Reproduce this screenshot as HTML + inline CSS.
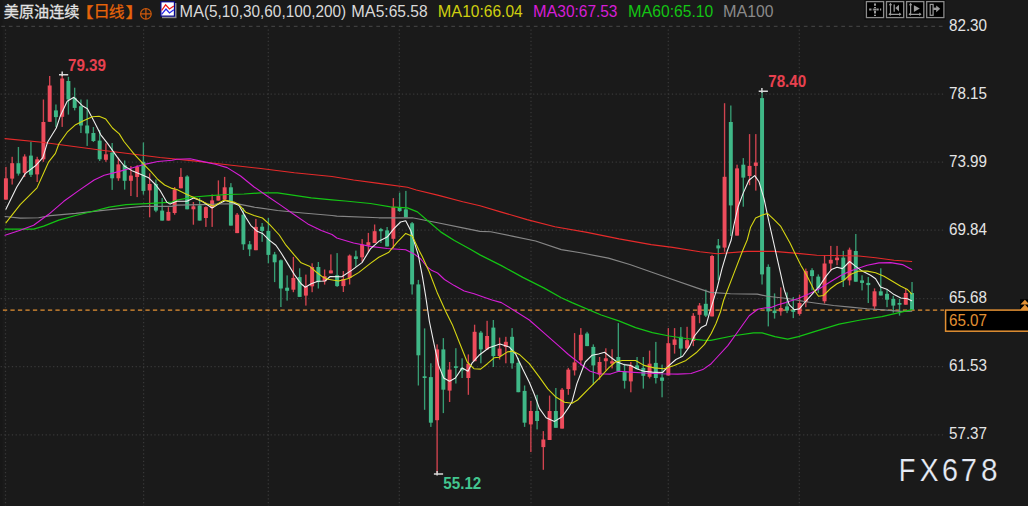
<!DOCTYPE html>
<html><head><meta charset="utf-8"><title>chart</title>
<style>html,body{margin:0;padding:0;background:#1a1a1a;overflow:hidden}body{width:1028px;height:506px;position:relative;font-family:"Liberation Sans",sans-serif}</style>
</head><body>
<svg width="1028" height="506" viewBox="0 0 1028 506" style="position:absolute;left:0;top:0">
<rect width="1028" height="506" fill="#1a1a1a"/>
<rect x="0" y="0" width="2.4" height="506" fill="#171717"/>
<g stroke="#383838" stroke-width="1.25" stroke-dasharray="1.25 2.5" fill="none">
<path d="M0.6 94 H944"/>
<path d="M0.6 162.2 H944"/>
<path d="M0.6 230.2 H944"/>
<path d="M0.6 298.6 H944"/>
<path d="M0.6 366.5 H944"/>
<path d="M0.6 434.8 H944"/>
<path d="M5.5 29.4 V506"/>
<path d="M143.6 29.4 V506"/>
<path d="M268.3 29.4 V506"/>
<path d="M399.3 29.4 V506"/>
<path d="M531 29.4 V506"/>
<path d="M668.3 29.4 V506"/>
<path d="M799.3 29.4 V506"/>
</g>
<path d="M1.3 26.4 H943" stroke="#3e3e3e" stroke-width="1.25" stroke-dasharray="3.75 3.75" fill="none"/>
<path d="M-4.6 310 H944" stroke="#e29033" stroke-width="1.25" stroke-dasharray="4.3 3.2" fill="none"/>
<g><rect x="5.25" y="166.9" width="1.35" height="32.7" fill="#d2434f"/><rect x="3.95" y="178.3" width="3.95" height="21.3" fill="#ee4c5c"/><rect x="11.5" y="156.8" width="1.35" height="27.7" fill="#d2434f"/><rect x="10.2" y="163.2" width="3.95" height="15.4" fill="#ee4c5c"/><rect x="17.75" y="147" width="1.35" height="28.6" fill="#379c73"/><rect x="16.45" y="163.2" width="3.95" height="10.4" fill="#3fb887"/><rect x="24" y="154.3" width="1.35" height="22.7" fill="#d2434f"/><rect x="22.7" y="156.5" width="3.95" height="16.3" fill="#ee4c5c"/><rect x="30.25" y="142" width="1.35" height="35" fill="#379c73"/><rect x="28.95" y="155.6" width="3.95" height="19.2" fill="#3fb887"/><rect x="36.5" y="156.8" width="1.35" height="25.2" fill="#d2434f"/><rect x="35.2" y="159.3" width="3.95" height="15.1" fill="#ee4c5c"/><rect x="42.75" y="99.5" width="1.35" height="62.3" fill="#d2434f"/><rect x="41.45" y="122" width="3.95" height="37.3" fill="#ee4c5c"/><rect x="49" y="76" width="1.35" height="45.8" fill="#d2434f"/><rect x="47.7" y="85.5" width="3.95" height="36.3" fill="#ee4c5c"/><rect x="55.25" y="104.5" width="1.35" height="22.7" fill="#379c73"/><rect x="53.95" y="110.4" width="3.95" height="6.7" fill="#3fb887"/><rect x="61.5" y="74.8" width="1.35" height="52.1" fill="#d2434f"/><rect x="60.2" y="78.5" width="3.95" height="38.3" fill="#ee4c5c"/><rect x="67.74" y="76.8" width="1.35" height="37.8" fill="#379c73"/><rect x="66.44" y="81" width="3.95" height="18.5" fill="#3fb887"/><rect x="73.99" y="87.7" width="1.35" height="22.7" fill="#379c73"/><rect x="72.69" y="97.8" width="3.95" height="10.1" fill="#3fb887"/><rect x="80.24" y="99.5" width="1.35" height="33.5" fill="#379c73"/><rect x="78.94" y="106.2" width="3.95" height="19.3" fill="#3fb887"/><rect x="86.49" y="99.5" width="1.35" height="46.4" fill="#379c73"/><rect x="85.19" y="125.5" width="3.95" height="7.9" fill="#3fb887"/><rect x="92.74" y="127" width="1.35" height="15" fill="#379c73"/><rect x="91.44" y="133" width="3.95" height="8" fill="#3fb887"/><rect x="98.99" y="130" width="1.35" height="31" fill="#379c73"/><rect x="97.69" y="140.6" width="3.95" height="18.7" fill="#3fb887"/><rect x="105.24" y="143.4" width="1.35" height="18.4" fill="#d2434f"/><rect x="103.94" y="154.3" width="3.95" height="5.5" fill="#ee4c5c"/><rect x="111.49" y="143" width="1.35" height="46.9" fill="#379c73"/><rect x="110.19" y="152.6" width="3.95" height="25.7" fill="#3fb887"/><rect x="117.74" y="157.6" width="1.35" height="23.2" fill="#d2434f"/><rect x="116.44" y="164.4" width="3.95" height="13.9" fill="#ee4c5c"/><rect x="123.99" y="160.5" width="1.35" height="29.1" fill="#379c73"/><rect x="122.69" y="165.2" width="3.95" height="15.6" fill="#3fb887"/><rect x="130.23" y="166" width="1.35" height="30" fill="#d2434f"/><rect x="128.94" y="175.6" width="3.95" height="5.2" fill="#ee4c5c"/><rect x="136.48" y="165.2" width="1.35" height="31.9" fill="#d2434f"/><rect x="135.18" y="166.9" width="3.95" height="10.1" fill="#ee4c5c"/><rect x="142.73" y="142.5" width="1.35" height="52.1" fill="#379c73"/><rect x="141.43" y="161.8" width="3.95" height="29.1" fill="#3fb887"/><rect x="148.98" y="173.3" width="1.35" height="44" fill="#d2434f"/><rect x="147.68" y="184" width="3.95" height="6.4" fill="#ee4c5c"/><rect x="155.23" y="179.5" width="1.35" height="32.7" fill="#379c73"/><rect x="153.93" y="184" width="3.95" height="26.6" fill="#3fb887"/><rect x="161.48" y="198" width="1.35" height="22.6" fill="#379c73"/><rect x="160.18" y="210.6" width="3.95" height="10" fill="#3fb887"/><rect x="167.73" y="207.2" width="1.35" height="13.4" fill="#d2434f"/><rect x="166.43" y="211.9" width="3.95" height="8.7" fill="#ee4c5c"/><rect x="173.98" y="187" width="1.35" height="27.7" fill="#d2434f"/><rect x="172.68" y="189.5" width="3.95" height="23.5" fill="#ee4c5c"/><rect x="180.23" y="168.1" width="1.35" height="20.2" fill="#d2434f"/><rect x="178.93" y="176.9" width="3.95" height="11.4" fill="#ee4c5c"/><rect x="186.48" y="175.2" width="1.35" height="34.1" fill="#379c73"/><rect x="185.18" y="176.5" width="3.95" height="32.8" fill="#3fb887"/><rect x="192.72" y="202" width="1.35" height="22.7" fill="#d2434f"/><rect x="191.43" y="206.3" width="3.95" height="3" fill="#ee4c5c"/><rect x="198.97" y="197.9" width="1.35" height="22.7" fill="#379c73"/><rect x="197.67" y="205.4" width="3.95" height="15.2" fill="#3fb887"/><rect x="205.22" y="206.3" width="1.35" height="20.6" fill="#d2434f"/><rect x="203.92" y="207.1" width="3.95" height="10.9" fill="#ee4c5c"/><rect x="211.47" y="194.5" width="1.35" height="32.4" fill="#d2434f"/><rect x="210.17" y="200.4" width="3.95" height="7.6" fill="#ee4c5c"/><rect x="217.72" y="180.4" width="1.35" height="20.2" fill="#d2434f"/><rect x="216.42" y="195.7" width="3.95" height="4.9" fill="#ee4c5c"/><rect x="223.97" y="176.9" width="1.35" height="22.7" fill="#d2434f"/><rect x="222.67" y="187.3" width="3.95" height="12.3" fill="#ee4c5c"/><rect x="230.22" y="183.1" width="1.35" height="42.5" fill="#379c73"/><rect x="228.92" y="187.3" width="3.95" height="38.3" fill="#3fb887"/><rect x="236.47" y="213" width="1.35" height="20.1" fill="#d2434f"/><rect x="235.17" y="214.7" width="3.95" height="18.4" fill="#ee4c5c"/><rect x="242.72" y="208" width="1.35" height="41.9" fill="#379c73"/><rect x="241.42" y="214.7" width="3.95" height="29.6" fill="#3fb887"/><rect x="248.97" y="241" width="1.35" height="15.1" fill="#379c73"/><rect x="247.67" y="244.3" width="3.95" height="5.1" fill="#3fb887"/><rect x="255.21" y="218.9" width="1.35" height="31.3" fill="#d2434f"/><rect x="253.91" y="226.9" width="3.95" height="23.3" fill="#ee4c5c"/><rect x="261.46" y="223" width="1.35" height="18.8" fill="#379c73"/><rect x="260.16" y="226.7" width="3.95" height="4.2" fill="#3fb887"/><rect x="267.71" y="218" width="1.35" height="45.3" fill="#379c73"/><rect x="266.41" y="230.9" width="3.95" height="24" fill="#3fb887"/><rect x="273.96" y="251.9" width="1.35" height="30.2" fill="#379c73"/><rect x="272.66" y="254.4" width="3.95" height="7.9" fill="#3fb887"/><rect x="280.21" y="259.4" width="1.35" height="47.6" fill="#379c73"/><rect x="278.91" y="260.3" width="3.95" height="28.2" fill="#3fb887"/><rect x="286.46" y="275.4" width="1.35" height="25.2" fill="#379c73"/><rect x="285.16" y="287.7" width="3.95" height="3.1" fill="#3fb887"/><rect x="292.71" y="256.9" width="1.35" height="35.3" fill="#d2434f"/><rect x="291.41" y="277.9" width="3.95" height="11.8" fill="#ee4c5c"/><rect x="298.96" y="268.3" width="1.35" height="28.6" fill="#379c73"/><rect x="297.66" y="277.1" width="3.95" height="19.8" fill="#3fb887"/><rect x="305.21" y="274.6" width="1.35" height="31" fill="#d2434f"/><rect x="303.91" y="286.3" width="3.95" height="9.3" fill="#ee4c5c"/><rect x="311.46" y="263.3" width="1.35" height="28.9" fill="#d2434f"/><rect x="310.16" y="267" width="3.95" height="19.3" fill="#ee4c5c"/><rect x="317.7" y="262" width="1.35" height="26.5" fill="#379c73"/><rect x="316.4" y="267" width="3.95" height="15.1" fill="#3fb887"/><rect x="323.95" y="269.5" width="1.35" height="15.1" fill="#d2434f"/><rect x="322.65" y="276.2" width="3.95" height="5.1" fill="#ee4c5c"/><rect x="330.2" y="254.4" width="1.35" height="19" fill="#d2434f"/><rect x="328.9" y="270.4" width="3.95" height="3" fill="#ee4c5c"/><rect x="336.45" y="253.1" width="1.35" height="33.8" fill="#379c73"/><rect x="335.15" y="275.2" width="3.95" height="10.9" fill="#3fb887"/><rect x="342.7" y="271" width="1.35" height="21" fill="#d2434f"/><rect x="341.4" y="279" width="3.95" height="7.1" fill="#ee4c5c"/><rect x="348.95" y="254.5" width="1.35" height="30" fill="#d2434f"/><rect x="347.65" y="255.6" width="3.95" height="22.4" fill="#ee4c5c"/><rect x="355.2" y="250.6" width="1.35" height="16.2" fill="#379c73"/><rect x="353.9" y="256.4" width="3.95" height="2.6" fill="#3fb887"/><rect x="361.45" y="239.1" width="1.35" height="22.6" fill="#d2434f"/><rect x="360.15" y="244.7" width="3.95" height="12.6" fill="#ee4c5c"/><rect x="367.7" y="232.9" width="1.35" height="19.3" fill="#d2434f"/><rect x="366.4" y="242.2" width="3.95" height="3.3" fill="#ee4c5c"/><rect x="373.95" y="224.5" width="1.35" height="18.5" fill="#d2434f"/><rect x="372.65" y="231.2" width="3.95" height="11.8" fill="#ee4c5c"/><rect x="380.19" y="227.9" width="1.35" height="15.1" fill="#379c73"/><rect x="378.89" y="229.1" width="3.95" height="2.1" fill="#3fb887"/><rect x="386.44" y="227" width="1.35" height="19.4" fill="#379c73"/><rect x="385.14" y="230.4" width="3.95" height="16" fill="#3fb887"/><rect x="392.69" y="198.1" width="1.35" height="49.9" fill="#d2434f"/><rect x="391.39" y="206.9" width="3.95" height="31.9" fill="#ee4c5c"/><rect x="398.94" y="192.6" width="1.35" height="19.3" fill="#379c73"/><rect x="397.64" y="207.7" width="3.95" height="3.4" fill="#3fb887"/><rect x="405.19" y="190.9" width="1.35" height="26.4" fill="#379c73"/><rect x="403.89" y="209.4" width="3.95" height="7.9" fill="#3fb887"/><rect x="411.44" y="222" width="1.35" height="72.5" fill="#379c73"/><rect x="410.14" y="223.3" width="3.95" height="61.1" fill="#3fb887"/><rect x="417.69" y="279.9" width="1.35" height="105.6" fill="#379c73"/><rect x="416.39" y="284.4" width="3.95" height="70.9" fill="#3fb887"/><rect x="423.94" y="328.4" width="1.35" height="81.4" fill="#379c73"/><rect x="422.64" y="376.3" width="3.95" height="1.7" fill="#3fb887"/><rect x="430.19" y="363.3" width="1.35" height="63.6" fill="#379c73"/><rect x="428.89" y="377.1" width="3.95" height="45.6" fill="#3fb887"/><rect x="436.44" y="344.4" width="1.35" height="129.2" fill="#d2434f"/><rect x="435.14" y="349.4" width="3.95" height="70.8" fill="#ee4c5c"/><rect x="442.68" y="338.1" width="1.35" height="75" fill="#379c73"/><rect x="441.38" y="349.4" width="3.95" height="40.3" fill="#3fb887"/><rect x="448.93" y="362" width="1.35" height="40" fill="#d2434f"/><rect x="447.63" y="369.6" width="3.95" height="21" fill="#ee4c5c"/><rect x="455.18" y="348.2" width="1.35" height="35.3" fill="#379c73"/><rect x="453.88" y="366.2" width="3.95" height="1.7" fill="#3fb887"/><rect x="461.43" y="358.3" width="1.35" height="19.7" fill="#379c73"/><rect x="460.13" y="367.9" width="3.95" height="2.5" fill="#3fb887"/><rect x="467.68" y="354.4" width="1.35" height="40.4" fill="#d2434f"/><rect x="466.38" y="363.7" width="3.95" height="14.3" fill="#ee4c5c"/><rect x="473.93" y="324.7" width="1.35" height="36.5" fill="#d2434f"/><rect x="472.63" y="331.8" width="3.95" height="29.4" fill="#ee4c5c"/><rect x="480.18" y="330.9" width="1.35" height="32.4" fill="#379c73"/><rect x="478.88" y="332.6" width="3.95" height="16.8" fill="#3fb887"/><rect x="486.43" y="320.8" width="1.35" height="28.6" fill="#d2434f"/><rect x="485.13" y="336" width="3.95" height="13.4" fill="#ee4c5c"/><rect x="492.68" y="320" width="1.35" height="47" fill="#379c73"/><rect x="491.38" y="327.6" width="3.95" height="28.5" fill="#3fb887"/><rect x="498.93" y="337.6" width="1.35" height="21.9" fill="#d2434f"/><rect x="497.63" y="348.6" width="3.95" height="7.5" fill="#ee4c5c"/><rect x="505.17" y="336.8" width="1.35" height="26.5" fill="#d2434f"/><rect x="503.87" y="341.8" width="3.95" height="5.1" fill="#ee4c5c"/><rect x="511.42" y="328.1" width="1.35" height="40.6" fill="#379c73"/><rect x="510.12" y="336.8" width="3.95" height="26.5" fill="#3fb887"/><rect x="517.67" y="357.8" width="1.35" height="34.4" fill="#379c73"/><rect x="516.37" y="362.8" width="3.95" height="29.4" fill="#3fb887"/><rect x="523.92" y="385.5" width="1.35" height="41.4" fill="#379c73"/><rect x="522.62" y="390.9" width="3.95" height="31.8" fill="#3fb887"/><rect x="530.17" y="400.9" width="1.35" height="51.2" fill="#d2434f"/><rect x="528.87" y="411" width="3.95" height="13.4" fill="#ee4c5c"/><rect x="536.42" y="394.8" width="1.35" height="34.6" fill="#379c73"/><rect x="535.12" y="411" width="3.95" height="10" fill="#3fb887"/><rect x="542.67" y="431.1" width="1.35" height="38.7" fill="#d2434f"/><rect x="541.37" y="439.5" width="3.95" height="7.6" fill="#ee4c5c"/><rect x="548.92" y="395.6" width="1.35" height="44.4" fill="#d2434f"/><rect x="547.62" y="411" width="3.95" height="29" fill="#ee4c5c"/><rect x="555.17" y="388" width="1.35" height="39.8" fill="#379c73"/><rect x="553.87" y="411" width="3.95" height="16.8" fill="#3fb887"/><rect x="561.42" y="388" width="1.35" height="40.6" fill="#d2434f"/><rect x="560.12" y="389.7" width="3.95" height="38.9" fill="#ee4c5c"/><rect x="567.66" y="367.9" width="1.35" height="26.9" fill="#d2434f"/><rect x="566.36" y="369.6" width="3.95" height="19.4" fill="#ee4c5c"/><rect x="573.91" y="333.1" width="1.35" height="42.4" fill="#d2434f"/><rect x="572.61" y="362.4" width="3.95" height="8" fill="#ee4c5c"/><rect x="580.16" y="328.1" width="1.35" height="37.3" fill="#d2434f"/><rect x="578.86" y="334.8" width="3.95" height="25.6" fill="#ee4c5c"/><rect x="586.41" y="331.8" width="1.35" height="14.3" fill="#379c73"/><rect x="585.11" y="333.5" width="3.95" height="12.6" fill="#3fb887"/><rect x="592.66" y="344.4" width="1.35" height="40.3" fill="#379c73"/><rect x="591.36" y="346.9" width="3.95" height="18.5" fill="#3fb887"/><rect x="598.91" y="357" width="1.35" height="22.7" fill="#d2434f"/><rect x="597.61" y="362" width="3.95" height="12.6" fill="#ee4c5c"/><rect x="605.16" y="348.3" width="1.35" height="22.1" fill="#d2434f"/><rect x="603.86" y="358.3" width="3.95" height="2.9" fill="#ee4c5c"/><rect x="611.41" y="349.2" width="1.35" height="19.2" fill="#d2434f"/><rect x="610.11" y="361.3" width="3.95" height="2.3" fill="#ee4c5c"/><rect x="617.66" y="323.1" width="1.35" height="48.2" fill="#379c73"/><rect x="616.36" y="357" width="3.95" height="14.3" fill="#3fb887"/><rect x="623.91" y="363.7" width="1.35" height="24.9" fill="#379c73"/><rect x="622.61" y="371.3" width="3.95" height="9.5" fill="#3fb887"/><rect x="630.15" y="362" width="1.35" height="30.3" fill="#d2434f"/><rect x="628.85" y="365.4" width="3.95" height="16" fill="#ee4c5c"/><rect x="636.4" y="357" width="1.35" height="12.1" fill="#379c73"/><rect x="635.1" y="365.4" width="3.95" height="3.7" fill="#3fb887"/><rect x="642.65" y="357" width="1.35" height="31.6" fill="#379c73"/><rect x="641.35" y="367.9" width="3.95" height="7.9" fill="#3fb887"/><rect x="648.9" y="350.6" width="1.35" height="27.9" fill="#d2434f"/><rect x="647.6" y="363.7" width="3.95" height="13.1" fill="#ee4c5c"/><rect x="655.15" y="341.9" width="1.35" height="41.6" fill="#379c73"/><rect x="653.85" y="362.9" width="3.95" height="15.1" fill="#3fb887"/><rect x="661.4" y="364.6" width="1.35" height="32.7" fill="#379c73"/><rect x="660.1" y="377.5" width="3.95" height="3.3" fill="#3fb887"/><rect x="667.65" y="328.1" width="1.35" height="47.4" fill="#d2434f"/><rect x="666.35" y="343.2" width="3.95" height="32.3" fill="#ee4c5c"/><rect x="673.9" y="328.1" width="1.35" height="25.5" fill="#d2434f"/><rect x="672.6" y="339.4" width="3.95" height="5.5" fill="#ee4c5c"/><rect x="680.15" y="327.1" width="1.35" height="29.9" fill="#379c73"/><rect x="678.85" y="336.8" width="3.95" height="11.8" fill="#3fb887"/><rect x="686.4" y="326.8" width="1.35" height="21.8" fill="#d2434f"/><rect x="685.1" y="340.2" width="3.95" height="8.4" fill="#ee4c5c"/><rect x="692.64" y="313.1" width="1.35" height="33" fill="#d2434f"/><rect x="691.34" y="315.8" width="3.95" height="25.2" fill="#ee4c5c"/><rect x="698.89" y="303" width="1.35" height="20.2" fill="#d2434f"/><rect x="697.59" y="305.5" width="3.95" height="9.3" fill="#ee4c5c"/><rect x="705.14" y="289.6" width="1.35" height="27.4" fill="#379c73"/><rect x="703.84" y="303.8" width="3.95" height="11.8" fill="#3fb887"/><rect x="711.39" y="254.8" width="1.35" height="61.6" fill="#d2434f"/><rect x="710.09" y="256" width="3.95" height="60.4" fill="#ee4c5c"/><rect x="717.64" y="239" width="1.35" height="41.3" fill="#379c73"/><rect x="716.34" y="245.4" width="3.95" height="3" fill="#3fb887"/><rect x="723.89" y="103.2" width="1.35" height="148.6" fill="#d2434f"/><rect x="722.59" y="176.8" width="3.95" height="70.8" fill="#ee4c5c"/><rect x="730.14" y="105.5" width="1.35" height="130.5" fill="#379c73"/><rect x="728.84" y="122" width="3.95" height="83.4" fill="#3fb887"/><rect x="736.39" y="164.7" width="1.35" height="70.9" fill="#d2434f"/><rect x="735.09" y="168.4" width="3.95" height="67.2" fill="#ee4c5c"/><rect x="742.64" y="158.1" width="1.35" height="48.6" fill="#379c73"/><rect x="741.34" y="164.7" width="3.95" height="12.9" fill="#3fb887"/><rect x="748.89" y="134.1" width="1.35" height="51.1" fill="#d2434f"/><rect x="747.59" y="165.9" width="3.95" height="10.1" fill="#ee4c5c"/><rect x="755.13" y="134.1" width="1.35" height="56.5" fill="#d2434f"/><rect x="753.83" y="162.5" width="3.95" height="3.4" fill="#ee4c5c"/><rect x="761.38" y="91.4" width="1.35" height="193.1" fill="#379c73"/><rect x="760.08" y="98.1" width="3.95" height="176.3" fill="#3fb887"/><rect x="767.63" y="264.4" width="1.35" height="62" fill="#379c73"/><rect x="766.33" y="266.9" width="3.95" height="44.5" fill="#3fb887"/><rect x="773.88" y="293.4" width="1.35" height="25.2" fill="#379c73"/><rect x="772.58" y="310.6" width="3.95" height="2.5" fill="#3fb887"/><rect x="780.13" y="287.4" width="1.35" height="28.2" fill="#d2434f"/><rect x="778.83" y="308" width="3.95" height="3.4" fill="#ee4c5c"/><rect x="786.38" y="292.4" width="1.35" height="20.7" fill="#379c73"/><rect x="785.08" y="306.4" width="3.95" height="4.2" fill="#3fb887"/><rect x="792.63" y="297.1" width="1.35" height="21" fill="#379c73"/><rect x="791.33" y="309.7" width="3.95" height="2.2" fill="#3fb887"/><rect x="798.88" y="294.6" width="1.35" height="21" fill="#d2434f"/><rect x="797.58" y="303" width="3.95" height="10.9" fill="#ee4c5c"/><rect x="805.13" y="268.6" width="1.35" height="38.6" fill="#d2434f"/><rect x="803.83" y="271.1" width="3.95" height="31.1" fill="#ee4c5c"/><rect x="811.38" y="268.2" width="1.35" height="22.2" fill="#379c73"/><rect x="810.08" y="270.2" width="3.95" height="5.9" fill="#3fb887"/><rect x="817.62" y="274.4" width="1.35" height="18.5" fill="#379c73"/><rect x="816.32" y="276.6" width="3.95" height="11.3" fill="#3fb887"/><rect x="823.87" y="255.1" width="1.35" height="48.4" fill="#d2434f"/><rect x="822.57" y="263.5" width="3.95" height="37.8" fill="#ee4c5c"/><rect x="830.12" y="245.9" width="1.35" height="25.2" fill="#d2434f"/><rect x="828.82" y="259.8" width="3.95" height="3.7" fill="#ee4c5c"/><rect x="836.37" y="245.9" width="1.35" height="19.3" fill="#d2434f"/><rect x="835.07" y="257.6" width="3.95" height="2.6" fill="#ee4c5c"/><rect x="842.62" y="250.9" width="1.35" height="36.1" fill="#379c73"/><rect x="841.32" y="257.6" width="3.95" height="22.7" fill="#3fb887"/><rect x="848.87" y="247.6" width="1.35" height="37.8" fill="#d2434f"/><rect x="847.57" y="249.7" width="3.95" height="30.7" fill="#ee4c5c"/><rect x="855.12" y="234" width="1.35" height="47.7" fill="#379c73"/><rect x="853.82" y="251" width="3.95" height="30.7" fill="#3fb887"/><rect x="861.37" y="275.3" width="1.35" height="15.1" fill="#379c73"/><rect x="860.07" y="280.4" width="3.95" height="2.5" fill="#3fb887"/><rect x="867.62" y="277" width="1.35" height="26" fill="#379c73"/><rect x="866.32" y="282.9" width="3.95" height="2.2" fill="#3fb887"/><rect x="873.87" y="288.4" width="1.35" height="20.5" fill="#d2434f"/><rect x="872.57" y="291.3" width="3.95" height="15.1" fill="#ee4c5c"/><rect x="880.11" y="268.3" width="1.35" height="27.2" fill="#379c73"/><rect x="878.81" y="291.3" width="3.95" height="4.2" fill="#3fb887"/><rect x="886.36" y="289.6" width="1.35" height="17.6" fill="#379c73"/><rect x="885.06" y="293.8" width="3.95" height="5.9" fill="#3fb887"/><rect x="892.61" y="295.8" width="1.35" height="16.8" fill="#379c73"/><rect x="891.31" y="298.8" width="3.95" height="6.8" fill="#3fb887"/><rect x="898.86" y="298.8" width="1.35" height="16.8" fill="#379c73"/><rect x="897.56" y="303" width="3.95" height="1.7" fill="#3fb887"/><rect x="905.11" y="288.8" width="1.35" height="15.9" fill="#d2434f"/><rect x="903.81" y="293" width="3.95" height="11.7" fill="#ee4c5c"/><rect x="911.36" y="282" width="1.35" height="27.8" fill="#379c73"/><rect x="910.06" y="293" width="3.95" height="16.8" fill="#3fb887"/></g>
<path d="M5 138.6 L42 142.3 L100 150 L160 157.5 L193.6 160.9 L227.2 164.8 L260.8 168.5 L294.4 172.7 L332 176.5 L353.6 180 L378.8 183.4 L407.4 187.3 L416.3 190 L437.6 195.1 L462.8 201.8 L480 205.7 L501.4 212.1 L527.1 219.6 L554.9 226.7 L587 232.4 L619.1 238.9 L651.2 244.6 L672.6 247.4 L700 251.7 L717 253.8 L747.2 251.4 L774.1 251.4 L797.6 253.4 L816.8 255.2 L858.8 256 L875.6 257.7 L894.1 260.2 L911.7 261.5" stroke="#e62a2a" stroke-width="1.1" fill="none" stroke-linejoin="round" stroke-linecap="round"/>
<path d="M5 216.5 L20.2 218.1 L38.6 217.8 L50.4 215.6 L75.6 213.4 L100.8 210.6 L126 208 L142.8 206.4 L172 206.4 L176.8 205.1 L202 204.6 L227.2 203.8 L239 204.1 L254.1 207.1 L277.6 210.5 L302.8 213 L332 215.5 L336.8 216.1 L378.8 217.8 L412.4 217.8 L437.6 222.8 L462.8 227.9 L480 231.4 L490.7 231.8 L512.1 236.1 L535.6 241 L561.3 249.6 L580.6 252.8 L608.4 258.1 L629.8 264.5 L651.2 272 L672.6 279.5 L696.8 287.9 L710.2 292.4 L730.4 293.8 L757.3 294.1 L767.4 296.3 L789.2 298.8 L806 301.8 L816.8 303.3 L833.6 305.5 L850.4 307.1 L867.2 308.7 L884 309.9 L900.8 311.4 L911.7 311.2" stroke="#868686" stroke-width="1.15" fill="none" stroke-linejoin="round" stroke-linecap="round"/>
<path d="M5 229.1 L33.6 229.1 L43.7 226.1 L58.8 220.2 L75.6 215.5 L94.1 211 L109.2 207.1 L126 204.7 L151.2 203.4 L172 202.1 L176.8 200.1 L193.6 197 L210.4 195.7 L227.2 194.5 L244 194 L260.8 192.8 L277.6 192.8 L294.4 195.4 L311.2 197.9 L332 199.9 L345.2 201 L370.4 203.5 L390.6 206.8 L407.4 207.9 L417.4 211.9 L429.2 222 L441 232.1 L454.4 240.5 L471.2 249.7 L480 254.9 L501.4 265.6 L522.8 277.4 L544.2 288.1 L561.3 297.7 L572 302.6 L601.2 315 L618.8 320.9 L635.6 327.6 L652.4 332.6 L669.2 336 L686 338.5 L702.8 340.2 L710.7 340.3 L732.1 336 L753.5 332.8 L762.1 332.8 L774.9 336.7 L787.7 339.2 L798.4 336.7 L817.7 330.7 L839.1 324.2 L860.5 320 L881.9 316.7 L896.9 313.1 L911.9 309.7" stroke="#14c414" stroke-width="1.25" fill="none" stroke-linejoin="round" stroke-linecap="round"/>
<path d="M5 235.3 L20.2 230.3 L33.6 225.2 L48.7 214.3 L63.8 201.3 L79 190.4 L94.1 180 L104.2 175.3 L117.6 171.9 L132.7 167.7 L144.5 164.4 L157.9 161.5 L172 160.2 L176.8 159.2 L190.2 158.7 L202 161.4 L215.4 164.3 L227.2 167.6 L240.6 176 L254.1 187 L267.5 196.2 L281 205.4 L294.4 214.7 L307.8 223.9 L321.3 230.6 L332 234.5 L336.8 238 L353.6 243 L370.4 246.4 L387.2 248.5 L405.7 249.7 L414.1 253.9 L420.8 259 L427.5 267.3 L432 270.6 L437.6 273 L444.5 279.5 L454.3 285.6 L464.2 291 L474.1 293.8 L484 297.2 L492 300 L501.4 302.6 L529.3 320 L542.8 331.8 L557.9 345.2 L568.4 354.5 L580.2 363.7 L590.2 371.3 L598.6 373.8 L610.4 374.1 L618.8 371.3 L630.5 372.1 L644 373 L660.8 373.8 L677.6 374.1 L691 373.5 L702.8 369.6 L711.2 363.7 L715 359.5 L727.8 345.6 L738.5 330.7 L749.2 315.7 L757.8 309.3 L764.2 308 L771 307.4 L778 304.7 L785.6 302.6 L797.6 298.8 L809.3 293.8 L819.4 288.7 L831.2 281.2 L841.3 275.3 L850.4 271.1 L867.2 265.3 L879 262.9 L890.7 262.6 L902.5 264.6 L911.7 269.4" stroke="#d61ed6" stroke-width="1.1" fill="none" stroke-linejoin="round" stroke-linecap="round"/>
<path d="M5.9 209.2 L16.8 187 L25.2 173.6 L36.1 165.2 L42.8 157.6 L47.5 142.3 L56.3 128 L60.5 115.4 L67.2 101.2 L73.9 97.3 L82.3 105.7 L87.4 108.7 L94 121.3 L100.8 134.8 L107.5 143.4 L117.6 157.6 L124.3 166 L132.7 171.1 L141.1 174.4 L148.7 177.8 L155.4 184.5 L160 190.3 L166.7 202.1 L170.1 204.1 L176.8 201.2 L186.9 201.2 L193.6 197.9 L202 201.2 L212.1 208 L218.8 203.8 L225.5 200.4 L233.9 202.9 L239 205.4 L245.7 217.2 L250.7 225.3 L256.6 230.9 L262.5 233.4 L269.2 240.1 L275.9 245.2 L281 252.7 L287.7 263.6 L294.4 274.6 L301.1 283.8 L305.3 287.2 L311.2 283.8 L317.9 281.3 L325 281 L330.1 276.5 L341.8 276.8 L351.9 270.1 L362 262.6 L370.4 248.9 L378.8 241.3 L387.2 237.1 L393.9 228.7 L400.6 222 L405.7 220.8 L410.7 230.4 L415.8 247.2 L418.3 255 L422.5 276.8 L425.8 297 L429.3 321 L433.6 341.8 L438.6 365.4 L443.7 378 L449.6 381.3 L455.4 378 L462.2 367.9 L468 371.2 L472.2 362.8 L479 355.3 L489 347.7 L500 343.9 L509.2 346.9 L515.9 354.4 L522.6 368.7 L529.3 382.2 L534.4 394.5 L539.4 408.4 L546.1 417.7 L554.5 421.4 L562.1 416.8 L568 408.4 L572 401.7 L576.8 383.9 L585.2 362 L591.9 355.3 L598.6 354 L604.5 352.3 L610.4 357 L617.1 362 L623.8 364.6 L630.5 365.4 L637.3 369.1 L644 371.3 L652.4 372.1 L662.5 372.5 L669.2 365.4 L675.9 359.5 L682.6 356.2 L689.3 346.9 L694.4 336 L701.1 327.6 L706.1 325.1 L710.2 310.6 L717 288.7 L722 268.6 L727 251.8 L731.2 240 L733.8 225.5 L738 207 L743 193.6 L748.9 180.2 L754.7 175.6 L759 181.8 L764 198.6 L769 222.2 L773.5 242 L779.1 266.9 L784.2 289.6 L789.2 304.7 L794.2 309.7 L799.3 308.9 L804.3 303 L811 295.4 L819.4 286.2 L826.1 276.1 L831.5 269.5 L837 267.2 L842.5 268.6 L849.6 261.5 L855.4 266.1 L862.2 271.1 L870.6 275.3 L875.6 278.7 L880.6 287.1 L887.4 289.6 L894.1 294.6 L900.8 298 L907.5 298.8 L911.7 300.8" stroke="#efefef" stroke-width="1.1" fill="none" stroke-linejoin="round" stroke-linecap="round"/>
<path d="M5.9 222.8 L20.2 204.7 L37 187.9 L48.7 161.8 L55.4 153.4 L58.8 144 L67.2 132.2 L75.6 124.7 L84 120.5 L92.4 116.8 L99.1 116.3 L105.8 119.1 L112.5 128 L119.3 133.9 L124 141.5 L134.4 154.3 L144.5 165.2 L151.2 171.9 L157.9 179.5 L164.6 185 L172 188.4 L176.8 189.5 L186.9 194.5 L197 198.7 L207 203.8 L213.8 206.3 L223.8 200.1 L233.9 202.1 L239 204.6 L245.7 212.2 L254.1 215.5 L262.5 218 L269.5 224.3 L279.3 235 L286 245.2 L294.4 255.2 L301.1 262.8 L309.5 266.2 L316.2 272 L322.9 277.1 L328 279.3 L338.5 281 L348.6 278.5 L358.6 272.6 L370.4 263.4 L378.8 257.3 L388.9 252.2 L397.3 242.2 L405.7 233.4 L412.4 236.3 L419.1 250.6 L422 256 L429.2 271.8 L437.6 293.6 L446 312.1 L452.7 325.6 L458.8 341 L467.2 362 L473.9 368.7 L480.6 369.1 L487.4 363.7 L494.1 357.8 L499.1 357.3 L507.5 351.9 L512.5 351.1 L519.3 354.4 L529.3 363.7 L539.4 377.1 L547.8 388.9 L556.2 397.3 L564.6 402.3 L572 403.2 L577.6 400 L588.6 388.9 L598.6 378.8 L608.7 367.9 L615.4 362 L622.2 360.45 L635.6 360.45 L644 365.4 L654.1 367.9 L664.1 368.8 L674.2 365.4 L686 360.4 L696.1 352.8 L704.5 344.4 L711.2 333.5 L716 323.5 L720.4 312 L723.7 300 L733.8 273.6 L742.2 251.8 L747.2 240 L750.6 227.2 L755.6 218 L762.3 215.1 L767.4 213.4 L774.1 219.6 L780.8 226.4 L785.8 235.6 L790 243 L794.2 251.8 L800.9 265.2 L806.7 275.3 L814.2 290.2 L818.5 296.3 L823.5 295.5 L830.2 288.8 L837 283.7 L843.7 280.4 L850.4 274.5 L858.8 271.1 L867.2 271.1 L875.6 272.8 L884 276.2 L892.4 281.2 L900.8 286.2 L907.5 289.6 L911.7 293.8" stroke="#d6d612" stroke-width="1.1" fill="none" stroke-linejoin="round" stroke-linecap="round"/>
<path d="M59 74.8 H68.2 M62.2 71.6 V76.2" stroke="#d8d8d8" stroke-width="1.5" fill="none"/>
<path d="M758.7 91.3 H767.9 M761.9 88.1 V92.7" stroke="#d8d8d8" stroke-width="1.5" fill="none"/>
<path d="M433.9 474.1 H443.1 M437.1 470.9 V475.5" stroke="#d8d8d8" stroke-width="1.5" fill="none"/>
<text transform="scale(1 1.03)" x="68" y="68.93" font-size="15.2" fill="#e8414f" font-weight="bold" font-family="Liberation Sans, sans-serif" >79.39</text>
<text transform="scale(1 1.03)" x="768.2" y="84.47" font-size="15.2" fill="#e8414f" font-weight="bold" font-family="Liberation Sans, sans-serif" >78.40</text>
<text transform="scale(1 1.03)" x="443.3" y="474.76" font-size="15.2" fill="#43c690" font-weight="bold" font-family="Liberation Sans, sans-serif" >55.12</text>
<text transform="scale(1 1.05)" x="949" y="29.14" font-size="15.2" fill="#e4e4e4" font-weight="normal" font-family="Liberation Sans, sans-serif" >82.30</text>
<text transform="scale(1 1.05)" x="949" y="93.9" font-size="15.2" fill="#e4e4e4" font-weight="normal" font-family="Liberation Sans, sans-serif" >78.15</text>
<text transform="scale(1 1.05)" x="949" y="158.86" font-size="15.2" fill="#e4e4e4" font-weight="normal" font-family="Liberation Sans, sans-serif" >73.99</text>
<text transform="scale(1 1.05)" x="949" y="223.62" font-size="15.2" fill="#e4e4e4" font-weight="normal" font-family="Liberation Sans, sans-serif" >69.84</text>
<text transform="scale(1 1.05)" x="949" y="288.76" font-size="15.2" fill="#e4e4e4" font-weight="normal" font-family="Liberation Sans, sans-serif" >65.68</text>
<text transform="scale(1 1.05)" x="949" y="353.43" font-size="15.2" fill="#e4e4e4" font-weight="normal" font-family="Liberation Sans, sans-serif" >61.53</text>
<text transform="scale(1 1.05)" x="949" y="418.48" font-size="15.2" fill="#e4e4e4" font-weight="normal" font-family="Liberation Sans, sans-serif" >57.37</text>
<rect x="945.6" y="310.1" width="90" height="21.1" fill="#000" stroke="#e29033" stroke-width="1.5"/>
<text transform="scale(1 1.05)" x="949" y="310.19" font-size="15.2" fill="#e29033" font-weight="normal" font-family="Liberation Sans, sans-serif" >65.07</text>
<rect x="1020" y="299.3" width="8" height="10.2" fill="#000"/>
<path d="M1024.9 299.7 L1029.4 304.4 H1020.4 Z M1024.9 304.6 L1030 309.9 H1019.8 Z" fill="#e29033"/>
<text transform="translate(898.87 480.7) scale(0.8778 1.012)" font-size="31.0" fill="#e6ebf5" stroke="#1a1a1a" stroke-width="0.2" paint-order="fill stroke" font-family="Liberation Sans, sans-serif">F</text>
<text transform="translate(919.87 480.7) scale(0.9105 1.012)" font-size="31.0" fill="#e6ebf5" stroke="#1a1a1a" stroke-width="0.2" paint-order="fill stroke" font-family="Liberation Sans, sans-serif">X</text>
<text transform="translate(942.04 480.7) scale(0.9298 1.012)" font-size="31.0" fill="#e6ebf5" stroke="#1a1a1a" stroke-width="0.2" paint-order="fill stroke" font-family="Liberation Sans, sans-serif">6</text>
<text transform="translate(960.81 480.7) scale(0.9367 1.012)" font-size="31.0" fill="#e6ebf5" stroke="#1a1a1a" stroke-width="0.2" paint-order="fill stroke" font-family="Liberation Sans, sans-serif">7</text>
<text transform="translate(981.1 480.7) scale(0.9624 1.012)" font-size="31.0" fill="#e6ebf5" stroke="#1a1a1a" stroke-width="0.2" paint-order="fill stroke" font-family="Liberation Sans, sans-serif">8</text>
<text transform="scale(1 1.05)" x="179.6" y="15.9" font-size="15.32" fill="#d9d9d9" font-weight="normal" font-family="Liberation Sans, sans-serif" ><tspan font-size="16.25">MA</tspan>(5,10,30,60,100,200)</text>
<text transform="scale(1 1.05)" x="351.3" y="15.9" font-size="15.55" fill="#d9d9d9" font-weight="normal" font-family="Liberation Sans, sans-serif" ><tspan font-size="16.25">MA</tspan>5:65.58</text>
<text transform="scale(1 1.05)" x="437.8" y="15.9" font-size="15.55" fill="#cfcf10" font-weight="normal" font-family="Liberation Sans, sans-serif" ><tspan font-size="16.25">MA</tspan>10:66.04</text>
<text transform="scale(1 1.05)" x="533" y="15.9" font-size="15.45" fill="#d61ed6" font-weight="normal" font-family="Liberation Sans, sans-serif" ><tspan font-size="16.25">MA</tspan>30:67.53</text>
<text transform="scale(1 1.05)" x="627.9" y="15.9" font-size="15.65" fill="#14c414" font-weight="normal" font-family="Liberation Sans, sans-serif" ><tspan font-size="16.25">MA</tspan>60:65.10</text>
<text transform="scale(1 1.05)" x="723" y="15.9" font-size="15.7" fill="#8a8a8a" font-weight="normal" font-family="Liberation Sans, sans-serif" ><tspan font-size="16.25">MA</tspan>100</text>
<text x="3.78" y="16.9" font-size="15.13" fill="#e2e2e2" stroke="#e2e2e2" stroke-width="0.3" font-family="Liberation Sans, Noto Sans CJK SC, sans-serif">美原油连续</text>
<text transform="translate(75.29 18.34) scale(1.247 1)" font-size="14.7" fill="#e6640a" stroke="#e6640a" stroke-width="0.25" font-family="Liberation Sans, Noto Sans CJK SC, sans-serif">【</text>
<text transform="translate(93.25 17.18) scale(1.029 1)" font-size="16.29" fill="#e6640a" stroke="#e6640a" stroke-width="0.25" font-family="Liberation Sans, Noto Sans CJK SC, sans-serif">日</text>
<text transform="translate(108.66 17.13) scale(1.032 1)" font-size="15.23" fill="#e6640a" stroke="#e6640a" stroke-width="0.25" font-family="Liberation Sans, Noto Sans CJK SC, sans-serif">线</text>
<text transform="translate(125.38 18.34) scale(1.247 1)" font-size="14.7" fill="#e6640a" stroke="#e6640a" stroke-width="0.25" font-family="Liberation Sans, Noto Sans CJK SC, sans-serif">】</text>
<g stroke="#cf5a0c" stroke-width="1.2" fill="none"><circle cx="145.9" cy="13.9" r="5.3"/><path d="M140.7 13.9 H151.1 M145.9 8.7 V19.1"/></g>
<rect x="162" y="3" width="14.5" height="15.2" fill="#8a8a90"/>
<rect x="160.9" y="1.8" width="13.5" height="14.3" fill="#fff" stroke="#00008c" stroke-width="1.15"/>
<path d="M161.6 10.5 L165.6 4.8 L169.5 9 L173.8 6.1" stroke="#f01818" stroke-width="1.25" fill="none"/>
<path d="M161.6 14.3 L166 9 L169.5 12.9 L173.8 9.7" stroke="#2828e8" stroke-width="1.25" fill="none"/>
<rect x="864.5" y="0" width="81" height="19.5" fill="#0a0a0a"/>
<rect x="866.4" y="1.6" width="17.2" height="16" fill="#000" stroke="#8c8c8c" stroke-width="1.3"/>
<rect x="886.5" y="1.6" width="17.2" height="16" fill="#000" stroke="#8c8c8c" stroke-width="1.3"/>
<rect x="906.6" y="1.6" width="17.2" height="16" fill="#000" stroke="#8c8c8c" stroke-width="1.3"/>
<rect x="926.7" y="1.6" width="17.2" height="16" fill="#000" stroke="#8c8c8c" stroke-width="1.3"/>
<g stroke="#9a9a9a" stroke-width="2" fill="none" stroke-dasharray="2.4 1.3"><path d="M875 3.4 V8.2 M875 11.1 V16 M869.1 9.6 H873.8 M876.3 9.6 H881.2"/></g>
<rect x="874" y="8.7" width="2" height="1.9" fill="#9a9a9a"/>
<g stroke="#9a9a9a" stroke-width="1.2" fill="#9a9a9a"><path d="M890.5 4 V15 M889 14.3 H900.5" fill="none"/><path d="M890.5 2.8 l1.7 2.4 h-3.4z M901.5 14.3 l-2.4 1.7 v-3.4z M888.3 14.3 l2.4 1.7 v-3.4z" stroke="none"/></g>
<path d="M894.2 4.6 V11.7" stroke="#9a9a9a" stroke-width="1.3"/><path d="M895.3 8.1 L899 4.8 V11.4 Z" fill="#9a9a9a"/>
<g stroke="#9a9a9a" stroke-width="1.2" fill="#9a9a9a"><path d="M910.6 4 V15 M909.1 14.3 H920.6" fill="none"/><path d="M910.6 2.8 l1.7 2.4 h-3.4z M921.6 14.3 l-2.4 1.7 v-3.4z M908.4 14.3 l2.4 1.7 v-3.4z" stroke="none"/></g>
<path d="M913.9 5.2 L919.8 8.6 L913.9 12 Z" fill="#9a9a9a"/>
<rect x="930.2" y="4.4" width="2.9" height="10.9" fill="none" stroke="#9a9a9a" stroke-width="1.2"/>
<path d="M933.3 8.8 H937" stroke="#9a9a9a" stroke-width="2.4"/><path d="M936.2 5.4 L940.2 8.8 L936.2 12.2 Z" fill="#9a9a9a"/>
</svg>
</body></html>
